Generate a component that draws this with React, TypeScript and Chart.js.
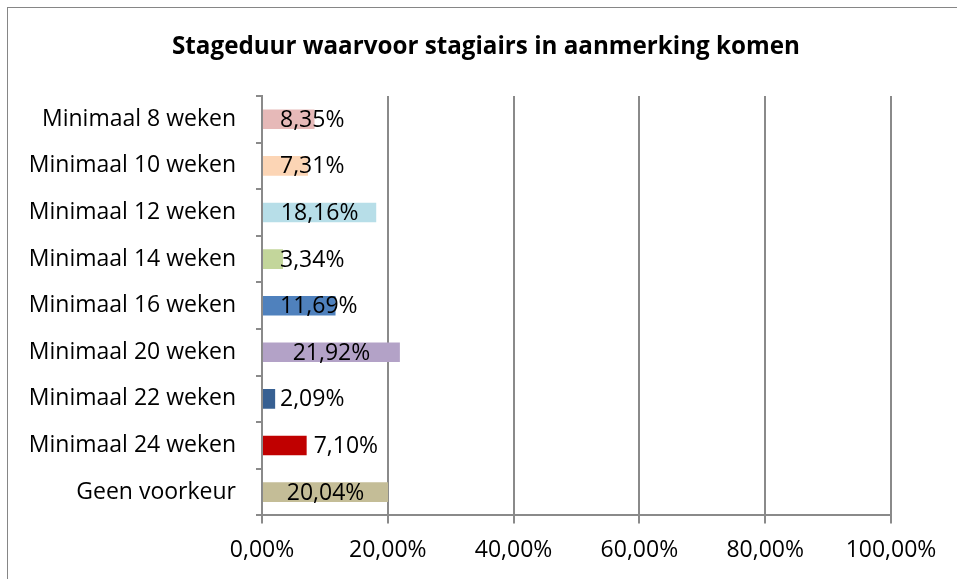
import React, { useEffect, useRef } from "react";
import { Chart, registerables } from "chart.js";

Chart.register(...registerables);

const TITLE = "Stageduur waarvoor stagiairs in aanmerking komen";

const categories = [
  "Minimaal 8 weken",
  "Minimaal 10 weken",
  "Minimaal 12 weken",
  "Minimaal 14 weken",
  "Minimaal 16 weken",
  "Minimaal 20 weken",
  "Minimaal 22 weken",
  "Minimaal 24 weken",
  "Geen voorkeur",
];

const values = [8.35, 7.31, 18.16, 3.34, 11.69, 21.92, 2.09, 7.1, 20.04];

const barColors = [
  "#E6B9B8",
  "#FCD5B5",
  "#B7DEE8",
  "#C3D69B",
  "#4F81BD",
  "#B3A2C7",
  "#376092",
  "#C00000",
  "#C4BD97",
];

const labelPlacement = [
  "center",
  "center",
  "center",
  "center",
  "center",
  "center",
  "center",
  "outsideEnd",
  "center",
];

const X_MIN = 0;
const X_MAX = 100;
const X_STEP = 20;

const FONT = "'Open Sans', 'DejaVu Sans', sans-serif";
const GRAY = "#8a8a8a";

const fmt = (v: number) => v.toFixed(2).replace(".", ",") + "%";

const titlePlugin = {
  id: "customTitle",
  afterDraw(chart: any) {
    const ctx = chart.ctx as CanvasRenderingContext2D;
    ctx.save();
    ctx.font = `bold 24.2px ${FONT}`;
    ctx.fillStyle = "#000";
    ctx.textAlign = "center";
    ctx.textBaseline = "middle";
    ctx.fillText(TITLE, chart.width / 2 + 3.5, 39);
    ctx.restore();
  },
};

const dataLabelPlugin = {
  id: "dataLabels",
  afterDatasetsDraw(chart: any) {
    const ctx = chart.ctx as CanvasRenderingContext2D;
    const meta = chart.getDatasetMeta(0);
    ctx.save();
    ctx.font = `23px ${FONT}`;
    ctx.fillStyle = "#000";
    ctx.textBaseline = "middle";
    ctx.textAlign = "left";
    meta.data.forEach((bar: any, i: number) => {
      const { x, y, base } = bar.getProps(["x", "y", "base"], true);
      const text = fmt(values[i]);
      const w = ctx.measureText(text).width;
      let left: number;
      if (labelPlacement[i] === "outsideEnd") left = x + 7;
      else left = Math.max((base + x) / 2 - w / 2, base + 17);
      ctx.fillText(text, left, y + 1);
    });
    ctx.restore();
  },
};

export default function App() {
  const ref = useRef<HTMLCanvasElement>(null);

  useEffect(() => {
    if (!ref.current) return;
    const chart = new Chart(ref.current, {
      type: "bar",
      data: {
        labels: categories,
        datasets: [
          {
            data: values,
            backgroundColor: barColors,
            borderWidth: 0,
            barPercentage: 0.42,
            categoryPercentage: 1,
          },
        ],
      },
      options: {
        indexAxis: "y",
        responsive: false,
        animation: false,
        layout: { padding: { left: 10, right: 66, top: 88, bottom: 2 } },
        plugins: {
          legend: { display: false },
          tooltip: { enabled: false },
          title: { display: false },
        },
        scales: {
          x: {
            min: X_MIN,
            max: X_MAX,
            ticks: {
              stepSize: X_STEP,
              color: "#000",
              font: { family: FONT, size: 23 },
              padding: 13,
              maxRotation: 0,
              callback: (v: any) => fmt(Number(v)),
            },
            grid: {
              color: GRAY,
              lineWidth: 2,
              tickLength: 8,
              drawOnChartArea: true,
            },
            border: { color: GRAY, width: 2 },
          },
          y: {
            afterFit: (scale: any) => {
              scale.width = 244;
            },
            ticks: {
              color: "#000",
              font: { family: FONT, size: 23 },
              padding: 20,
            },
            grid: {
              offset: true,
              drawOnChartArea: false,
              color: GRAY,
              lineWidth: 2,
              tickLength: 6,
            },
            border: { color: GRAY, width: 2 },
          },
        },
      },
      plugins: [dataLabelPlugin, titlePlugin],
    });
    return () => chart.destroy();
  }, []);

  return (
    <div
      style={{
        position: "fixed",
        left: 7,
        top: 7,
        width: 950,
        height: 572,
        borderTop: "1px solid #868686",
        borderLeft: "1px solid #868686",
        boxSizing: "border-box",
        background: "#fff",
      }}
    >
      <canvas
        ref={ref}
        width={949}
        height={571}
        style={{ display: "block", width: 949, height: 571 }}
      />
    </div>
  );
}
